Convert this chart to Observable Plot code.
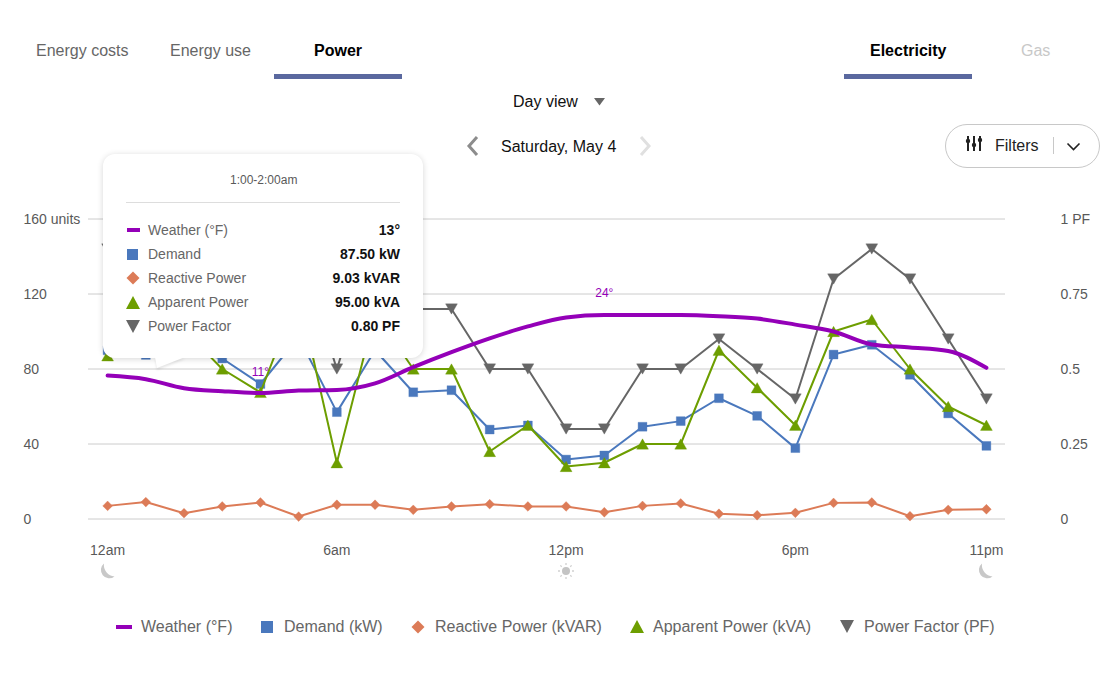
<!DOCTYPE html>
<html><head><meta charset="utf-8">
<script src="https://cdn.jsdelivr.net/npm/d3@7"></script>
<script src="https://cdn.jsdelivr.net/npm/@observablehq/plot@0.6"></script>
<style>
html,body{margin:0;padding:0;background:#fff}
#root{position:relative;width:1114px;height:679px;overflow:hidden;font-family:"Liberation Sans",Arial,sans-serif}
.t{position:absolute;white-space:nowrap;transform:translateY(-50%);line-height:1.2}
.b{position:absolute}
svg.plot{position:absolute;left:0;top:190px}
</style></head><body><div id="root"></div>
<script>
const hours=d3.range(24);
const xTickHours=[0,6,12,18,23];
const xTickLabels=["12am","6am","12pm","6pm","11pm"];
const yTicks=[0,40,80,120,160];
const yLeftLabels=["0","40","80","120","160 units"];
const yRightLabels=["0","0.25","0.5","0.75","1 PF"];
const weatherF=[13.9,13.3,11.8,11.3,11,11.4,11.5,12.6,15.3,17.8,20.1,22.1,23.6,24,24,24,23.8,23.4,22.4,21.25,19.1,18.6,18,15.2];
const demand=[90,87.5,90,85.6,72,97,57,90,67.6,68.7,47.7,49.9,31.7,33.9,49.2,52.2,64.4,55,37.8,87.7,92.9,76.9,56.3,39];
const reactive=[7,9.03,3.1,6.7,8.8,1.3,7.6,7.6,4.9,6.7,7.9,6.7,6.7,3.6,7,8.3,2.8,2,3.3,8.6,8.8,1.5,4.9,5.2];
const apparent=[87,95,101,80,67.5,120,30,110,80,80,36,50,28,30,40,40,90,70,50,100,106.4,80,60,50];
const powerFactor=[0.9,0.8,0.7,0.6,0.7,0.9,0.5,0.9,0.7,0.7,0.5,0.5,0.3,0.3,0.5,0.5,0.6,0.5,0.4,0.8,0.9,0.8,0.6,0.4];
const tooltipNames=["Weather (°F)","Demand","Reactive Power","Apparent Power","Power Factor"];
const tooltipValues=["13°","87.50 kW","9.03 kVAR","95.00 kVA","0.80 PF"];
const legendNames=["Weather (°F)","Demand (kW)","Reactive Power (kVAR)","Apparent Power (kVA)","Power Factor (PF)"];
const colors={weather:"#9400b8",demand:"#4a78bd",reactive:"#dc7b57",apparent:"#6d9e00",pf:"#666666"};

// chart-axis equivalents of the two secondary units
const weatherUnits=d=>67.2+3.2*(d-11);
const pfUnits=p=>p*160;
const triSym=dir=>({draw(c,size){const s=Math.sqrt(size/(Math.sqrt(3)/4));const h=s*Math.sqrt(3)/2;
  c.moveTo(-s/2,-dir*h/2);c.lineTo(s/2,-dir*h/2);c.lineTo(0,dir*h/2);c.closePath();}});

const series=(vals,f=v=>v)=>hours.map(h=>({h,v:f(vals[h])}));
const wx=series(weatherF,weatherUnits),dem=series(demand),rea=series(reactive),app=series(apparent),pf=series(powerFactor,pfUnits);
const lineOpt=(stroke,sw=2)=>({x:"h",y:"v",stroke,strokeWidth:sw});
const dotOpt=(fill,symbol,r)=>({x:"h",y:"v",fill,symbol,r,stroke:fill,strokeOpacity:0.35,strokeWidth:1});

const plot=Plot.plot({
  width:1114,height:400,marginLeft:88,marginRight:109,marginTop:28.5,marginBottom:71.5,
  x:{type:"linear",domain:[-0.5,23.5],axis:null},
  y:{domain:[0,160],axis:null},
  style:{fontFamily:'"Liberation Sans",Arial,sans-serif',fontSize:"14px",background:"transparent",overflow:"visible"},
  marks:[
    Plot.ruleY(yTicks,{stroke:"#cccccc",strokeWidth:1}),
    Plot.axisY({anchor:"left",ticks:yTicks,tickSize:0,tickPadding:65,textAnchor:"start",label:null,fill:"#595959",dy:0.5,tickFormat:d=>yLeftLabels[yTicks.indexOf(d)]}),
    Plot.axisY({anchor:"right",ticks:yTicks,tickSize:0,tickPadding:55,textAnchor:"start",label:null,fill:"#595959",dy:0.5,tickFormat:d=>yRightLabels[yTicks.indexOf(d)]}),
    Plot.axisX({anchor:"bottom",ticks:xTickHours,tickSize:0,tickPadding:26,label:null,fill:"#595959",tickFormat:d=>xTickLabels[xTickHours.indexOf(d)]}),
    Plot.line(rea,lineOpt(colors.reactive)),
    Plot.dot(rea,dotOpt(colors.reactive,"diamond2",4.4)),
    Plot.line(pf,lineOpt(colors.pf)),
    Plot.dot(pf,dotOpt(colors.pf,triSym(1),4.4)),
    Plot.line(dem,lineOpt(colors.demand)),
    Plot.dot(dem,dotOpt(colors.demand,"square",5)),
    Plot.line(app,lineOpt(colors.apparent)),
    Plot.dot(app,dotOpt(colors.apparent,triSym(-1),4.4)),
    Plot.line(wx,{...lineOpt(colors.weather,4),curve:"monotone-x"}),
    Plot.text([wx[4]],{x:"h",y:"v",text:()=>"11°",dy:-21,fill:colors.weather,fontSize:12}),
    Plot.text([wx[13]],{x:"h",y:"v",text:()=>"24°",dy:-22,fill:colors.weather,fontSize:12})
  ]
});
plot.classList.add("plot");
const root=document.getElementById("root");
root.appendChild(plot);

function T(s,x,y,o={}){const e=document.createElement("div");e.className="t";e.textContent=s;
  e.style.left=x+"px";e.style.top=y+"px";e.style.fontSize=(o.size||16)+"px";e.style.color=o.color||"#595959";
  if(o.bold)e.style.fontWeight="700";
  if(o.right!=null){e.style.left="auto";e.style.right=(o.right)+"px";}
  (o.parent||root).appendChild(e);return e;}
function B(x,y,w,h,css,parent){const e=document.createElement("div");e.className="b";
  Object.assign(e.style,{left:x+"px",top:y+"px",width:w+"px",height:h+"px"},css||{});(parent||root).appendChild(e);return e;}
function icon(x,y,w,h,inner,parent){const e=B(x,y,w,h,{},parent);e.innerHTML=`<svg width="${w}" height="${h}" viewBox="0 0 ${w} ${h}" style="display:block;overflow:visible">${inner}</svg>`;return e;}
const sym=[
  (x,y,p)=>B(x,y-2,16,4,{background:colors.weather},p),
  (x,y,p)=>B(x+1,y-6,12,12,{background:colors.demand},p),
  (x,y,p)=>icon(x,y-7,14,14,`<path d="M7 0.5L13.5 7L7 13.5L0.5 7Z" fill="${colors.reactive}"/>`,p),
  (x,y,p)=>icon(x,y-6.5,14,13,`<path d="M7 0L14 13H0Z" fill="${colors.apparent}"/>`,p),
  (x,y,p)=>icon(x,y-6.5,14,13,`<path d="M0 0H14L7 13Z" fill="${colors.pf}"/>`,p)
];

// tabs
T("Energy costs",36,50.5,{color:"#666"});
T("Energy use",170,50.5,{color:"#666"});
T("Power",314,50.5,{bold:true,color:"#000"});
B(274,74,128,5,{background:"#5a689f"});
T("Electricity",870,50.5,{bold:true,color:"#000"});
T("Gas",1021,50.5,{color:"#c8c8c8"});
B(844,74,128,5,{background:"#5a689f"});
T("Day view",513,101.5,{color:"#111"});
icon(594,98,11,8,`<path d="M0 0H11L5.5 7.5Z" fill="#666"/>`);
T("Saturday, May 4",501,146.5,{color:"#111"});
icon(464,135,16,22,`<path d="M13 2L5 11L13 20" fill="none" stroke="#8c8c8c" stroke-width="3"/>`);
icon(638,135,16,22,`<path d="M3 2L11 11L3 20" fill="none" stroke="#e0e0e0" stroke-width="3"/>`);
// filters
B(945,124,153,42,{border:"1px solid #c8c8c8",borderRadius:"22px",background:"#fff"});
icon(966,134,18,18,`<g stroke="#222" stroke-width="2" fill="#222"><path d="M2 2V5M2 9V17M8 2V9M8 13V17M14 2V4M14 8V17" fill="none"/><circle cx="2" cy="7" r="1.2"/><circle cx="8" cy="11" r="1.2"/><circle cx="14" cy="6" r="1.2"/></g>`);
T("Filters",995,145.5,{color:"#222"});
B(1053,137,1,17,{background:"#c8c8c8"});
icon(1066,142,15,9,`<path d="M1.5 1.5L7.5 7.5L13.5 1.5" fill="none" stroke="#222" stroke-width="1.6"/>`);

// moon and sun
const moon=`<path d="M5 0.5A8 8 0 0 0 15.5 13.5A11.5 11.5 0 0 1 5 0.5Z" fill="#c8c8c8"/>`;
icon(99,563,16,16,moon);icon(977,563,16,16,moon);
let rays="";for(let i=0;i<8;i++){const a=i*Math.PI/4;rays+=`<line x1="${8+6*Math.cos(a)}" y1="${8+6*Math.sin(a)}" x2="${8+8*Math.cos(a)}" y2="${8+8*Math.sin(a)}" stroke="#d0d0d0" stroke-width="1.3"/>`;}
icon(558,563,16,16,`<circle cx="8" cy="8" r="4" fill="#c4c4c4"/>${rays}`);

// legend
const legSymX=[116,260,411,630,840],legTextX=[141,284,435,653,864];
legendNames.forEach((n,i)=>{sym[i](legSymX[i],626.5);T(n,legTextX[i],626.5,{color:"#666"});});

// tooltip
const tip=B(103,154,320,204,{background:"#fff",borderRadius:"12px",boxShadow:"0 1px 6px rgba(0,0,0,.16)"});
icon(155,357,30,12,`<path d="M0 0L2 11L30 0Z" fill="#fff" style="filter:drop-shadow(0 2px 1px rgba(0,0,0,.1))"/>`);
T("1:00-2:00am",127,26,{size:12,color:"#595959",parent:tip});
B(23,48,274,1,{background:"#ddd"},tip);
const rowY=[76,100,124,148,172];
tooltipNames.forEach((n,i)=>{
  if(i==0)B(24,rowY[0]-2,13,4,{background:colors.weather},tip);
  else if(i==1)B(24,rowY[1]-5.5,11,11,{background:colors.demand},tip);
  else sym[i](23,rowY[i],tip);
  T(n,45,rowY[i],{size:14,color:"#666",parent:tip});
  T(tooltipValues[i],0,rowY[i],{size:14,bold:true,color:"#111",right:23,parent:tip});
});
</script></body></html>
